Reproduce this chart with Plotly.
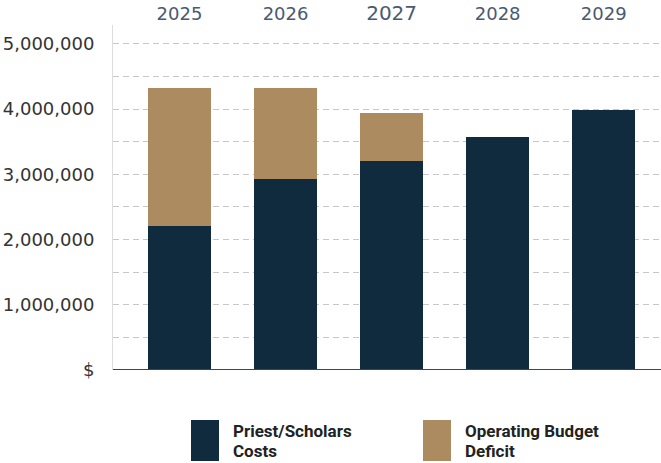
import plotly.graph_objects as go

years = ["2025", "2026", "2027", "2028", "2029"]
priest_costs = [2210000, 2930000, 3210000, 3570000, 3990000]
operating_deficit = [2120000, 1390000, 730000, 0, 0]
y_tick_vals = [0, 500000, 1000000, 1500000, 2000000, 2500000, 3000000, 3500000, 4000000, 4500000, 5000000]
y_tick_text = ["$", "", "1,000,000", "", "2,000,000", "", "3,000,000", "", "4,000,000", "", "5,000,000"]
series_names = [["Priest/Scholars", "Costs"], ["Operating Budget", "Deficit"]]

NAVY = "#0f2b3d"
TAN = "#ad8b61"
TICK_FONT = "DejaVu Sans, Verdana, sans-serif"

x_idx = list(range(len(years)))
year_text = [f"<span style='font-size:20px'>{y}</span>" if y == "2027" else y for y in years]

fig = go.Figure()
fig.add_trace(go.Bar(x=x_idx, y=priest_costs, marker=dict(color=NAVY, line=dict(width=0)),
                     width=0.594, name=" ".join(series_names[0]), showlegend=False))
fig.add_trace(go.Bar(x=x_idx, y=operating_deficit, marker=dict(color=TAN, line=dict(width=0)),
                     width=0.594, name=" ".join(series_names[1]), showlegend=False))

L, R, T, B = 113, 0, 25, 93
W, H = 661, 463
pw = W - L - R
ph = H - T - B

def px(x):
    return (x - L) / pw

def py(y):
    return (H - B - y) / ph

# legend swatches and labels
for sx, lines, col in [(191, series_names[0], NAVY), (423, series_names[1], TAN)]:
    fig.add_shape(type="rect", xref="paper", yref="paper",
                  x0=px(sx), x1=px(sx + 28), y0=py(461), y1=py(420),
                  fillcolor=col, line_width=0)
    for k, line in enumerate(lines):
        fig.add_annotation(xref="paper", yref="paper", x=px(sx + 40), y=py(431 + 20 * k),
                           xanchor="left", yanchor="middle", align="left",
                           text=f"<b>{line}</b>", showarrow=False,
                           font=dict(family="Roboto, Arial", size=17, color="#222222"))

# baseline
fig.add_shape(type="line", xref="paper", yref="y", x0=0, x1=1, y0=0, y1=0,
              line=dict(color="#444444", width=2))

fig.update_layout(
    width=W, height=H,
    margin=dict(l=L, r=R, t=T, b=B),
    barmode="stack",
    plot_bgcolor="white", paper_bgcolor="white",
    font=dict(family=TICK_FONT, color="#333333"),
    xaxis=dict(side="top", tickvals=x_idx, ticktext=year_text,
               range=[-0.627, 4.54], showgrid=False, showline=False, ticks="",
               tickfont=dict(size=18, color="#4a5a70", family=TICK_FONT),
               zeroline=False),
    yaxis=dict(range=[0, 5290000], tickvals=y_tick_vals, ticktext=y_tick_text,
               showgrid=True, gridcolor="#c8c8c8", griddash="6px,4px", gridwidth=1,
               showline=True, linecolor="#dddddd", linewidth=1,
               zeroline=False, ticks="", ticklabelstandoff=14,
               tickfont=dict(size=18, color="#333333", family=TICK_FONT)),
)

fig.write_html("out.html", config={"displayModeBar": False},
               post_script="document.body.style.margin='0';document.body.style.padding='0';")
